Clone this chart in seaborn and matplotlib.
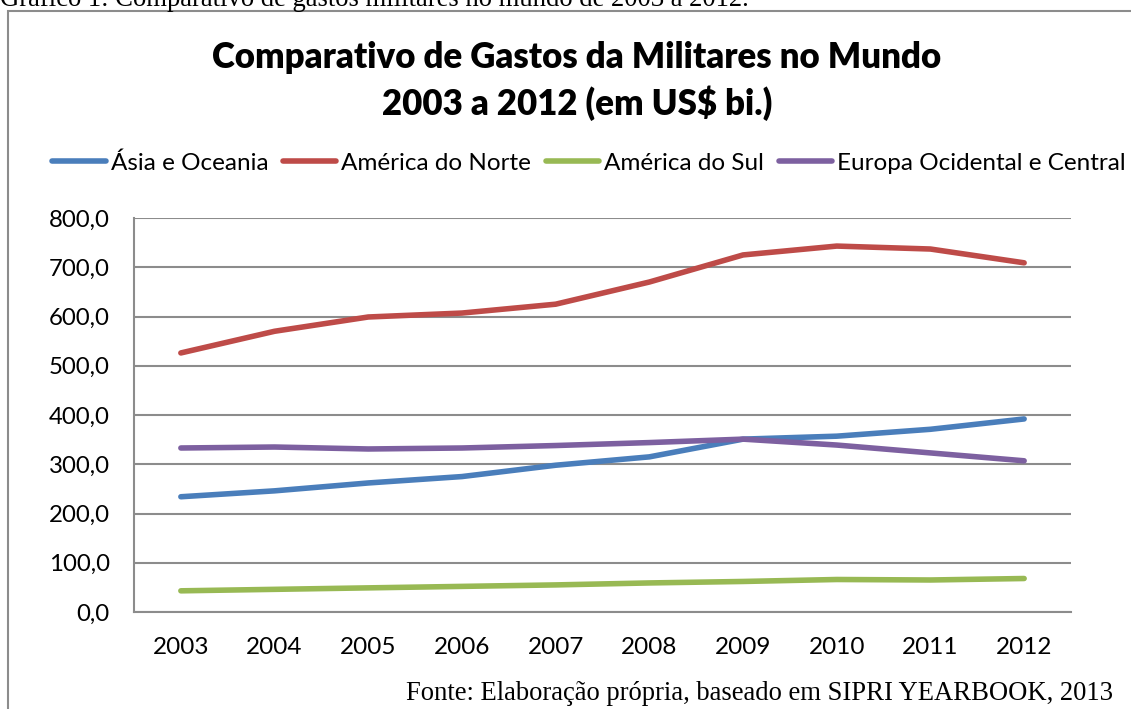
import matplotlib
matplotlib.use("Agg")
import matplotlib.pyplot as plt
import seaborn as sns
import pandas as pd
from matplotlib.patches import Rectangle
from matplotlib.lines import Line2D

years = ["2003", "2004", "2005", "2006", "2007", "2008", "2009", "2010", "2011", "2012"]
asia = [234, 246, 262, 275, 298, 315, 351, 357, 371, 392]
am_norte = [526, 570, 599, 607, 625, 670, 725, 743, 737, 709]
am_sul = [43, 46, 49, 52, 55, 59, 62, 66, 65, 68]
europa = [333, 335, 331, 333, 338, 344, 351, 339, 323, 307]
series_names = ["Ásia e Oceania", "América do Norte", "América do Sul", "Europa Ocidental e Central"]
colors = ["#4A7EBB", "#BE4B48", "#98B954", "#7D60A0"]
yticks = [0, 100, 200, 300, 400, 500, 600, 700, 800]

sns.set_theme(style="white")
plt.rcParams['font.family'] = ['Lato', 'DejaVu Sans']
plt.rcParams['text.color'] = 'black'
plt.rcParams['xtick.color'] = 'black'
plt.rcParams['ytick.color'] = 'black'

rows = []
for name, vals in zip(series_names, [asia, am_norte, am_sul, europa]):
    for i, v in enumerate(vals):
        rows.append({"idx": i, "valor": v, "serie": name})
df = pd.DataFrame(rows)

fig = plt.figure(figsize=(11.31, 7.09), dpi=100)
ax = fig.add_axes([134/1131, 1-612/709, (1071-134)/1131, (612-218)/709])

sns.lineplot(data=df, x="idx", y="valor", hue="serie", palette=colors,
             hue_order=series_names, linewidth=4.0, ax=ax, legend=False,
             solid_capstyle="round")

ax.set_xlim(-0.5, 9.5)
ax.set_ylim(0, 800)
ax.set_yticks(yticks)
ax.set_yticklabels([f"{v:.1f}".replace(".", ",") for v in yticks], fontsize=17.3)
ax.yaxis.grid(True, color="#8C8C8C", linewidth=1.5)
ax.set_axisbelow(True)
ax.set_xlabel("")
ax.set_ylabel("")

ax.set_xticks([i - 0.5 for i in range(11)])
ax.set_xticklabels([])
ax.set_xticks(range(10), minor=True)
ax.set_xticklabels(years, minor=True, fontsize=17.5)
ax.tick_params(axis="x", which="major", length=5.2, width=1.5, color="#8C8C8C", direction="out")
ax.tick_params(axis="x", which="minor", length=0, pad=18)
ax.tick_params(axis="y", length=6.5, width=1.5, color="#8C8C8C", direction="out", pad=11)
for s in ["top", "right"]:
    ax.spines[s].set_visible(False)
for s in ["left", "bottom"]:
    ax.spines[s].set_color("#8C8C8C")
    ax.spines[s].set_linewidth(1.5)

fig.text(577/1131, 1-57/709, "Comparativo de Gastos da Militares no Mundo",
         ha="center", va="center", fontsize=25, fontweight="heavy", color="black")
fig.text(577/1131, 1-103/709, "2003 a 2012 (em US$ bi.)",
         ha="center", va="center", fontsize=25, fontweight="heavy", color="black")

handles = [Line2D([0], [0], color=c, lw=4.0, solid_capstyle="round") for c in colors]
fig.legend(handles, series_names, loc="center", bbox_to_anchor=(589/1131, 1-163/709),
           ncol=4, frameon=False, fontsize=17.5, handlelength=2.2, handletextpad=0.2,
           columnspacing=0.6, borderpad=0, borderaxespad=0)

fig.text(1113/1131, 1-693/709, "Fonte: Elaboração própria, baseado em SIPRI YEARBOOK, 2013",
         ha="right", va="center", fontsize=19.2, family="Liberation Serif")
fig.text(0.0, 1-6/709, "Gráfico 1: Comparativo de gastos militares no mundo de 2003 a 2012.",
         ha="left", va="baseline", fontsize=19.2, family="Liberation Serif")

fig.patches.append(Rectangle((8/1131, -0.1), 1.2, 1-11/709 + 0.1, transform=fig.transFigure,
                             fill=False, edgecolor="#8C8C8C", linewidth=1.5))

fig.savefig("out.png", dpi=100)
